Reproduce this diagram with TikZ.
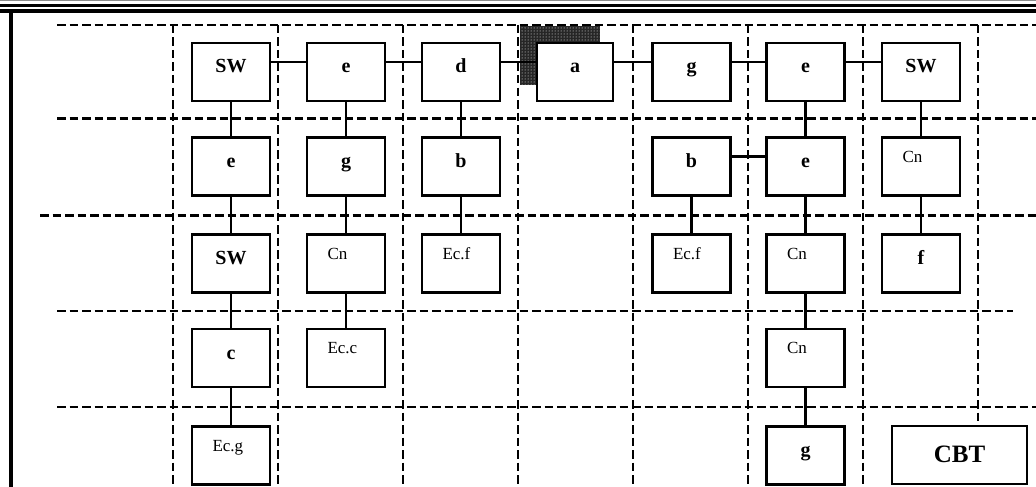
\documentclass[tikz,border=0pt]{standalone}
\usepackage{fontspec}
\setmainfont{Liberation Serif}
\usetikzlibrary{patterns}
\begin{document}
\begin{tikzpicture}[x=1pt,y=-1pt,
  grid/.style={line width=2.4pt, dash pattern=on 8.5pt off 4pt},
  box/.style={draw, line width=2.8pt, fill=white, minimum width=78pt, minimum height=58pt, inner sep=0pt},
  boldbox/.style={box, font=\fontsize{20}{20}\selectfont\bfseries, text height=14pt, text depth=12pt},
  regbox/.style={box, font=\fontsize{17}{17}\selectfont, text width=37pt, align=left, text height=12pt, text depth=21pt},
  link/.style={line width=2.4pt},
]
\useasboundingbox (0,0) rectangle (1036,487);
% frame
\draw[black!45, line width=1pt] (0,0.8) -- (1036,0.8);
\draw[line width=3pt] (0,5.5) -- (1036,5.5);
\draw[line width=3.5pt] (0,11) -- (1036,11);
\draw[line width=4pt] (10.5,11) -- (10.5,487);
% grid
\draw[grid] (57,25) -- (1036,25);
\draw[grid] (57,118.5) -- (1036,118.5);
\draw[grid] (40,215.5) -- (1036,215.5);
\draw[grid] (57,311) -- (1013,311);
\draw[grid] (57,407) -- (1036,407);
\foreach \x in {173,278,403,518,633,748,863,978}
  \draw[grid] (\x,25) -- (\x,487);
% hatched area
\fill[black!85] (520,26) rectangle (600,85);
\fill[pattern=dots, pattern color=white] (520,26) rectangle (600,85);
% row 1
\node[boldbox] (r1c1) at (231,72) {SW};
\node[boldbox] (r1c2) at (346,72) {e};
\node[boldbox] (r1c3) at (461,72) {d};
\node[boldbox, minimum width=76pt] (r1c4) at (575,72) {a};
\node[boldbox] (r1c5) at (691.5,72) {g};
\node[boldbox] (r1c6) at (805.5,72) {e};
\node[boldbox] (r1c7) at (921,72) {SW};
% row 2
\node[boldbox] (r2c1) at (231,166.5) {e};
\node[boldbox] (r2c2) at (346,166.5) {g};
\node[boldbox] (r2c3) at (461,166.5) {b};
\node[boldbox] (r2c5) at (691.5,166.5) {b};
\node[boldbox] (r2c6) at (805.5,166.5) {e};
\node[regbox] (r2c7) at (921,166.5) {Cn};
% row 3
\node[boldbox] (r3c1) at (231,263.5) {SW};
\node[regbox] (r3c2) at (346,263.5) {Cn};
\node[regbox] (r3c3) at (461,263.5) {Ec.f};
\node[regbox] (r3c5) at (691.5,263.5) {Ec.f};
\node[regbox] (r3c6) at (805.5,263.5) {Cn};
\node[boldbox] (r3c7) at (921,263.5) {f};
% row 4
\node[boldbox] (r4c1) at (231,358) {c};
\node[regbox] (r4c2) at (346,358) {Ec.c};
\node[regbox] (r4c6) at (805.5,358) {Cn};
% row 5
\node[regbox] (r5c1) at (231,455.5) {Ec.g};
\node[boldbox] (r5c6) at (805.5,455.5) {g};
\node[box, minimum width=135pt, font=\fontsize{25}{25}\selectfont\bfseries, text height=18pt, text depth=3pt] (cbt) at (959.5,455) {CBT};
% horizontal links
\foreach \a/\b in {r1c1/r1c2,r1c2/r1c3,r1c3/r1c4,r1c4/r1c5,r1c5/r1c6,r1c6/r1c7,r2c5/r2c6}
  \draw[link] ([yshift=10pt]\a.east) -- ([yshift=10pt]\b.west);
% vertical links
\foreach \a/\b in {r1c1/r2c1,r2c1/r3c1,r3c1/r4c1,r4c1/r5c1,
                   r1c2/r2c2,r2c2/r3c2,r3c2/r4c2,
                   r1c3/r2c3,r2c3/r3c3,
                   r2c5/r3c5,
                   r1c6/r2c6,r2c6/r3c6,r3c6/r4c6,r4c6/r5c6,
                   r1c7/r2c7,r2c7/r3c7}
  \draw[link] (\a.south) -- (\b.north);
\end{tikzpicture}
\end{document}
